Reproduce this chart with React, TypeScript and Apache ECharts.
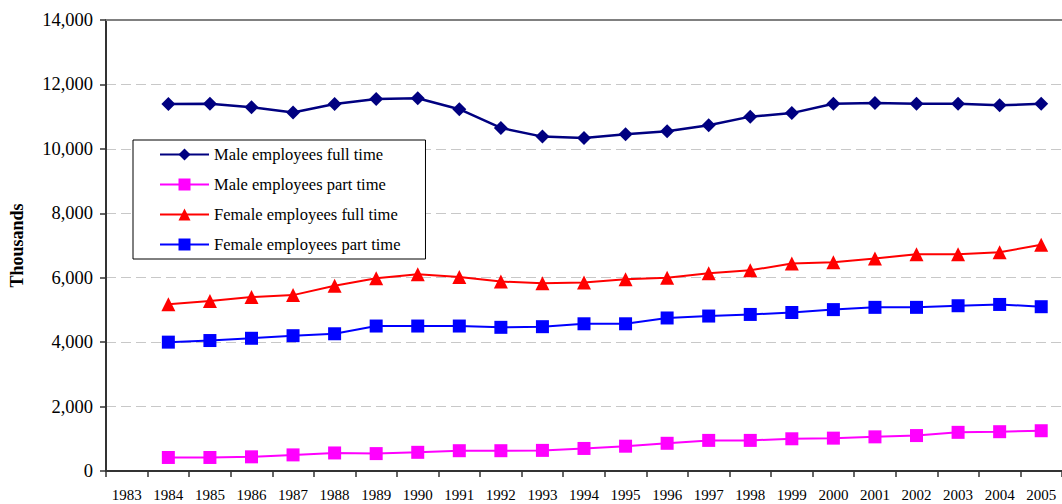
import React, { useEffect, useRef } from "react";
import * as echarts from "echarts";

const years = [
  "1983", "1984", "1985", "1986", "1987", "1988", "1989", "1990", "1991", "1992", "1993", "1994",
  "1995", "1996", "1997", "1998", "1999", "2000", "2001", "2002", "2003", "2004", "2005",
];

// Employees in thousands; 1983 has no observation.
const maleFullTime = [
  null, 11390, 11400, 11290, 11130, 11390, 11550, 11570, 11230, 10650, 10380, 10340,
  10450, 10550, 10730, 11000, 11110, 11400, 11420, 11400, 11400, 11350, 11400,
];
const malePartTime = [
  null, 420, 420, 440, 500, 560, 540, 580, 630, 630, 640, 700,
  770, 860, 950, 950, 1000, 1020, 1060, 1100, 1200, 1220, 1250,
];
const femaleFullTime = [
  null, 5180, 5280, 5400, 5460, 5750, 5980, 6110, 6020, 5880, 5830, 5850,
  5950, 6000, 6140, 6230, 6440, 6480, 6600, 6730, 6730, 6790, 7020,
];
const femalePartTime = [
  null, 4000, 4050, 4120, 4200, 4260, 4500, 4500, 4500, 4460, 4480, 4570,
  4570, 4750, 4810, 4860, 4920, 5010, 5080, 5080, 5130, 5170, 5100,
];

const FONT = "'Liberation Serif', 'Times New Roman', serif";

export default function App() {
  const ref = useRef<HTMLDivElement>(null);

  useEffect(() => {
    if (!ref.current) return;
    const chart = echarts.init(ref.current, null, { renderer: "svg" });

    const mkSeries = (name: string, data: (number | null)[], color: string, symbol: string, size: number, width: number) => ({
      name,
      type: "line",
      data,
      symbol,
      symbolSize: size,
      showAllSymbol: true,
      connectNulls: false,
      lineStyle: { color, width },
      itemStyle: { color, borderWidth: 0 },
      emphasis: { disabled: true },
    });

    chart.setOption({
      animation: false,
      backgroundColor: "#ffffff",
      grid: { left: 105, right: -3, top: 20, bottom: 33, containLabel: false },
      legend: {
        orient: "vertical",
        left: 133,
        top: 140,
        backgroundColor: "#ffffff",
        borderColor: "#000000",
        borderWidth: 1,
        borderRadius: 0,
        padding: [6, 25, 6, 26],
        itemWidth: 49,
        itemHeight: 15,
        itemGap: 13,
        textStyle: { fontFamily: FONT, fontSize: 16.5, color: "#000000", lineHeight: 16 },
        data: [
          "Male employees full time",
          "Male employees part time",
          "Female employees full time",
          "Female employees part time",
        ],
      },
      xAxis: [
        {
          type: "category",
          data: years,
          boundaryGap: true,
          axisLine: { lineStyle: { color: "#333333", width: 2 } },
          axisTick: { show: true, length: 6, lineStyle: { color: "#333333", width: 1.5 } },
          axisLabel: { fontFamily: FONT, fontSize: 15, color: "#000000", margin: 16, interval: 0 },
          splitLine: { show: false },
        },
        {
          type: "category",
          data: years,
          position: "top",
          axisLine: { lineStyle: { color: "#808080", width: 2 } },
          axisTick: { show: false },
          axisLabel: { show: false },
          splitLine: { show: false },
        },
      ],
      yAxis: {
        type: "value",
        min: 0,
        max: 14000,
        interval: 2000,
        name: "Thousands",
        nameLocation: "middle",
        nameRotate: 90,
        nameGap: 80,
        nameTextStyle: { fontFamily: FONT, fontSize: 18, fontWeight: "bold", color: "#000000" },
        axisLine: { show: true, lineStyle: { color: "#333333", width: 2 } },
        axisTick: { show: true, length: 6, lineStyle: { color: "#333333", width: 1.5 } },
        axisLabel: {
          fontFamily: FONT,
          fontSize: 18.5,
          color: "#000000",
          margin: 13,
          formatter: (v: number) => v.toLocaleString("en-US"),
        },
        splitLine: { show: true, lineStyle: { color: "#c8c8c8", width: 1, type: [10, 5] } },
      },
      series: [
        mkSeries("Male employees full time", maleFullTime, "#000080", "diamond", 14, 2.5),
        mkSeries("Male employees part time", malePartTime, "#ff00ff", "rect", 13, 2),
        mkSeries("Female employees full time", femaleFullTime, "#ff0000", "triangle", 14, 2),
        mkSeries("Female employees part time", femalePartTime, "#0000ff", "rect", 13, 2),
      ],
    });

    return () => chart.dispose();
  }, []);

  return (
    <div
      ref={ref}
      style={{ position: "fixed", left: 0, top: 0, width: 1062, height: 504 }}
    />
  );
}
